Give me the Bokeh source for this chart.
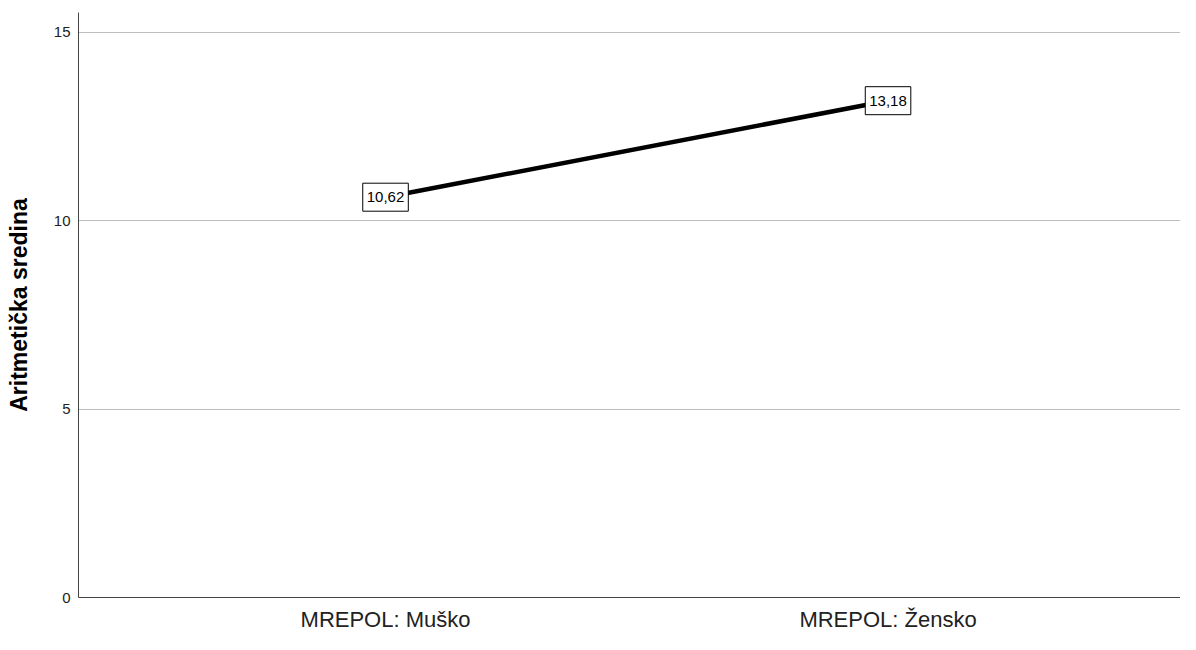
from bokeh.plotting import figure
from bokeh.models import Range1d, ColumnDataSource, FixedTicker
from bokeh.core.properties import value
from bokeh.embed import file_html
from bokeh.resources import INLINE

categories = ["MREPOL: Muško", "MREPOL: Žensko"]
means = [10.62, 13.18]
mean_labels = ["10,62", "13,18"]
y_ticks = [0, 5, 10, 15]

FONT = "Liberation Sans"

x_idx = list(range(len(categories)))
src = ColumnDataSource(data=dict(x=x_idx, y=means, lab=mean_labels))

p = figure(
    width=1180, height=634,
    x_range=Range1d(-0.611, 1.582),
    y_range=Range1d(0, 15.52),
    output_backend="svg", toolbar_location=None,
    min_border_left=78, min_border_right=0, min_border_top=12, min_border_bottom=28,
)
p.outline_line_color = None
p.background_fill_color = "white"

p.line(x="x", y="y", source=src, line_color="black", line_width=4.5)

p.text(
    x="x", y="y", text="lab", source=src,
    text_align="center", text_baseline="middle",
    text_font=value(FONT), text_font_size="15px", text_color="black",
    background_fill_color="white", border_line_color="black", border_line_width=1,
    padding=dict(x=4, y=9),
)

# y axis
p.yaxis.ticker = FixedTicker(ticks=y_ticks)
p.yaxis.axis_label = "Aritmetička sredina"
p.yaxis.axis_label_text_font = FONT
p.yaxis.axis_label_text_font_style = "bold"
p.yaxis.axis_label_text_font_size = "23px"
p.yaxis.axis_label_text_color = "black"
p.yaxis.axis_label_standoff = 19
p.yaxis.major_label_text_font = FONT
p.yaxis.major_label_text_font_size = "15px"
p.yaxis.major_label_text_color = "#222222"
p.yaxis.major_label_standoff = 2
p.yaxis.major_tick_line_color = None
p.yaxis.minor_tick_line_color = None
p.yaxis.axis_line_color = "#444444"
p.yaxis.axis_line_width = 1

# x axis
p.xaxis.ticker = FixedTicker(ticks=x_idx)
p.xaxis.major_label_overrides = {i: c for i, c in zip(x_idx, categories)}
p.xaxis.major_label_text_font = FONT
p.xaxis.major_label_text_font_size = "22px"
p.xaxis.major_label_text_color = "#222222"
p.xaxis.major_label_standoff = 3
p.xaxis.major_tick_line_color = None
p.xaxis.minor_tick_line_color = None
p.xaxis.axis_line_color = "#444444"
p.xaxis.axis_line_width = 1

p.xgrid.grid_line_color = None
p.ygrid.grid_line_color = "#bdbdbd"
p.ygrid.grid_line_width = 1

open("out.html", "w").write(file_html(p, INLINE))
